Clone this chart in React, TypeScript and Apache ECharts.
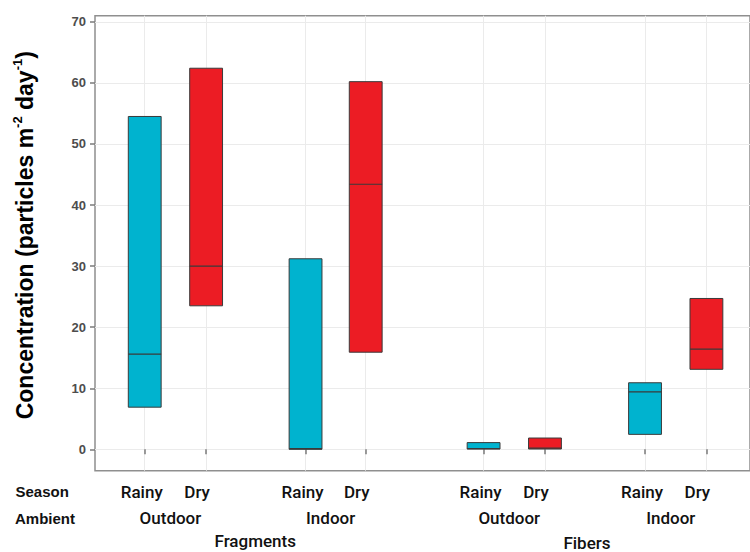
import React, { useEffect, useRef } from "react";
import * as echarts from "echarts";

// ---- data ----
const seasons = ["Rainy", "Dry", "Rainy", "Dry", "Rainy", "Dry", "Rainy", "Dry"];
const ambients = ["Outdoor", "Outdoor", "Indoor", "Indoor", "Outdoor", "Outdoor", "Indoor", "Indoor"];
const particleTypes = ["Fragments", "Fragments", "Fragments", "Fragments", "Fibers", "Fibers", "Fibers", "Fibers"];
const xPositions = [1, 2, 3.62, 4.6, 6.52, 7.52, 9.15, 10.15];
const minValues = [6.9, 23.5, 0, 15.9, 0.05, 0.05, 2.45, 13.1];
const medianValues = [15.6, 30.0, 0.1, 43.4, 0.1, 0.2, 9.4, 16.4];
const maxValues = [54.5, 62.4, 31.2, 60.2, 1.1, 1.85, 10.9, 24.7];
const yTicks = [0, 10, 20, 30, 40, 50, 60, 70];
const rowTitles = ["Season", "Ambient"];

const seasonColors: Record<string, string> = { Rainy: "#00B3CF", Dry: "#EC1C24" };

const labelFont = "Roboto, 'Liberation Sans', sans-serif";

export default function App() {
  const ref = useRef<HTMLDivElement>(null);

  useEffect(() => {
    if (!ref.current) return;
    const chart = echarts.init(ref.current, null, { renderer: "svg" });

    const data = xPositions.map((x, i) => [x, minValues[i], medianValues[i], maxValues[i], i]);

    const option: any = {
      animation: false,
      backgroundColor: "#ffffff",
      grid: {
        left: 95,
        top: 15.7,
        right: -4,
        bottom: 81.3,
        show: true,
        borderColor: "#8f8f8f",
        borderWidth: 1.5,
        backgroundColor: "transparent",
      },
      xAxis: {
        type: "value",
        min: 0.19,
        max: 10.86,
        axisLine: { show: false },
        axisTick: {
          show: true,
          length: 5,
          customValues: xPositions,
          lineStyle: { color: "#7a7a7a", width: 1.5 },
        },
        axisLabel: { show: false, customValues: xPositions },
        splitLine: { show: true, lineStyle: { color: "#ebebeb", width: 1 } },
      },
      yAxis: {
        type: "value",
        min: -3.5,
        max: 71,
        axisLine: { show: false },
        axisTick: {
          show: true,
          length: 5,
          customValues: yTicks,
          lineStyle: { color: "#7a7a7a", width: 1.5 },
        },
        axisLabel: {
          customValues: yTicks,
          margin: 9,
          color: "#4d4d4d",
          fontWeight: "bold",
          fontSize: 13,
          fontFamily: "'Liberation Sans', Arial, sans-serif",
        },
        splitLine: { show: true, lineStyle: { color: "#ebebeb", width: 1 } },
        name: "{b|Concentration (particles m}{s|-2}{b| day}{s|-1}{b|)}",
        nameLocation: "middle",
        nameGap: 57,
        nameTextStyle: {
          padding: [0, 0, 0, 16],
          rich: {
            b: {
              fontSize: 23,
              fontWeight: "bold",
              color: "#000",
              fontFamily: "'Liberation Sans', Arial, sans-serif",
              lineHeight: 27,
            },
            s: {
              fontSize: 13,
              fontWeight: "bold",
              color: "#000",
              fontFamily: "'Liberation Sans', Arial, sans-serif",
              verticalAlign: "top",
              lineHeight: 27,
            },
          },
        },
      },
      series: [
        {
          type: "custom",
          data,
          encode: { x: 0, y: [1, 2, 3] },
          renderItem: (params: any, api: any) => {
            const x = api.value(0);
            const lo = api.value(1);
            const med = api.value(2);
            const hi = api.value(3);
            const idx = api.value(4);
            const w = api.size([0.535, 0])[0];
            const pTop = api.coord([x, hi]);
            const pBot = api.coord([x, lo]);
            const pMed = api.coord([x, med]);
            const color = seasonColors[seasons[idx]];
            return {
              type: "group",
              children: [
                {
                  type: "rect",
                  shape: { x: pTop[0] - w / 2, y: pTop[1], width: w, height: Math.max(pBot[1] - pTop[1], 1) },
                  style: { fill: color, stroke: "#3a3a3a", lineWidth: 1 },
                },
                {
                  type: "line",
                  shape: { x1: pMed[0] - w / 2, y1: pMed[1], x2: pMed[0] + w / 2, y2: pMed[1] },
                  style: { stroke: "#3a3a3a", lineWidth: 1.2 },
                },
              ],
            };
          },
        },
      ],
    };

    chart.setOption(option);

    // ---- axis category labels, positioned through the chart's own scales ----
    const axisY = chart.convertToPixel({ yAxisIndex: 0 }, -3.5) as number;
    const px = xPositions.map((x) => chart.convertToPixel({ xAxisIndex: 0 }, x) as number);
    const graphics: any[] = [];
    const txt = (text: string, x: number, y: number, font: string, align = "center") => ({
      type: "text",
      style: {
        text,
        x,
        y,
        font,
        fill: "#111",
        textAlign: align,
        textVerticalAlign: "middle",
        verticalAlign: "middle",
      },
    });
    const catFont = `500 17px ${labelFont}`;
    const headFont = "bold 15px 'Liberation Sans', Arial, sans-serif";

    seasons.forEach((s, i) => {
      graphics.push(txt(s, px[i] + (s === "Rainy" ? -3 : -9), axisY + 21, catFont));
    });
    for (let i = 0; i < ambients.length; i += 2) {
      graphics.push(txt(ambients[i], (px[i] + px[i + 1]) / 2 - 5, axisY + 47.5, catFont));
    }
    const typeNames = Array.from(new Set(particleTypes));
    typeNames.forEach((t, k) => {
      const idxs = particleTypes.map((p, i) => (p === t ? i : -1)).filter((i) => i >= 0);
      const cx = (px[idxs[0]] + px[idxs[idxs.length - 1]]) / 2 - (k === 0 ? 0 : 8);
      graphics.push(txt(t, cx, axisY + 70.5 + (k === 0 ? 0 : 1.5), catFont));
    });
    graphics.push(txt(rowTitles[0], 15.5, axisY + 21, headFont, "left"));
    graphics.push(txt(rowTitles[1], 15, axisY + 48, headFont, "left"));

    chart.setOption({ graphic: graphics });

    return () => chart.dispose();
  }, []);

  return <div ref={ref} style={{ width: 750, height: 552, position: "absolute", left: 0, top: 0 }} />;
}
